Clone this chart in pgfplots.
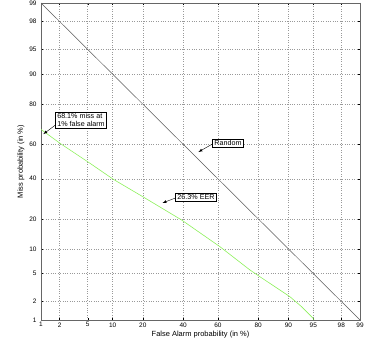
\documentclass[border=0pt]{standalone}
\usepackage{fontspec}
\setmainfont{Liberation Sans}
\usepackage{pgfplots}
\pgfplotsset{compat=1.18}
\definecolor{detgreen}{RGB}{140,240,90}
\definecolor{randgray}{RGB}{90,90,90}
\begin{document}
\begin{tikzpicture}
\begin{axis}[
  scale only axis,
  width=319bp, height=317bp,
  xmin=-2.3263, xmax=2.3263, ymin=-2.3263, ymax=2.3263,
  xtick={-2.3263,-2.0537,-1.6449,-1.2816,-0.8416,-0.2533,0.2533,0.8416,1.2816,1.6449,2.0537,2.3263},
  xticklabels={1,2,5,10,20,40,60,80,90,95,98,99},
  ytick={-2.3263,-2.0537,-1.6449,-1.2816,-0.8416,-0.2533,0.2533,0.8416,1.2816,1.6449,2.0537,2.3263},
  yticklabels={1,2,5,10,20,40,60,80,90,95,98,99},
  /pgf/number format/assume math mode=true,
  tick label style={font=\fontsize{6.5}{7}\selectfont},
  label style={font=\fontsize{7.5}{8}\selectfont},
  xlabel={False Alarm probability (in \%)},
  ylabel={Miss probability (in \%)},
  xlabel style={yshift=3pt},
  ylabel style={yshift=-2pt},
  grid=major,
  major grid style={dotted, gray!80, line width=0.5pt},
  tick align=inside,
  major tick length=2.5pt,
  tick style={black, line width=0.4pt},
  xtick pos=both, ytick pos=both,
  axis line style={gray!80!black, line width=0.6pt},
  x tick label style={yshift=1pt},
  y tick label style={xshift=-1pt},
  clip=true,
]
% Random line
\addplot[randgray, line width=0.5pt] coordinates {(-2.3263,2.3263) (2.3263,-2.3263)};
% DET curve
\addplot[detgreen, line width=0.6pt] coordinates {
(-2.3263,0.471) (-2.049,0.267) (-1.612,-0.026) (-1.272,-0.261) (-0.883,-0.492)
(-0.275,-0.859) (0.283,-1.250) (0.721,-1.592)
(0.866,-1.691) (1.304,-1.984) (1.474,-2.131) (1.643,-2.301) (1.654,-2.3263)
};
% annotations
\node[draw=black, fill=white, inner xsep=1.8pt, inner ysep=1.4pt, line width=0.4pt, align=left,
      font=\fontsize{7.2}{7.8}\selectfont] (a1) at (axis cs:-1.743,0.609) {68.1\% miss at\\1\% false alarm};
\node[draw=black, fill=white, inner xsep=1.8pt, inner ysep=1.4pt, line width=0.4pt,
      font=\fontsize{7.2}{7.8}\selectfont] (a2) at (axis cs:0.400,0.271) {Random};
\node[draw=black, fill=white, inner xsep=1.8pt, inner ysep=1.4pt, line width=0.4pt,
      font=\fontsize{7.2}{7.8}\selectfont] (a3) at (axis cs:-0.066,-0.521) {26.3\% EER};
\end{axis}
\draw[-latex, black, line width=0.4pt] ([yshift=3pt]a1.south west) -- ++(-12bp,-9bp);
\draw[-latex, black, line width=0.4pt] ([yshift=-1pt]a2.west) -- ++(-14bp,-8bp);
\draw[-latex, black, line width=0.4pt] ([yshift=-1pt]a3.west) -- ++(-13bp,-5bp);
\pgfresetboundingbox
\path[use as bounding box] ([xshift=-41bp,yshift=-20bp]current axis.south west) rectangle ([xshift=24bp,yshift=3bp]current axis.north east);
\end{tikzpicture}
\end{document}
